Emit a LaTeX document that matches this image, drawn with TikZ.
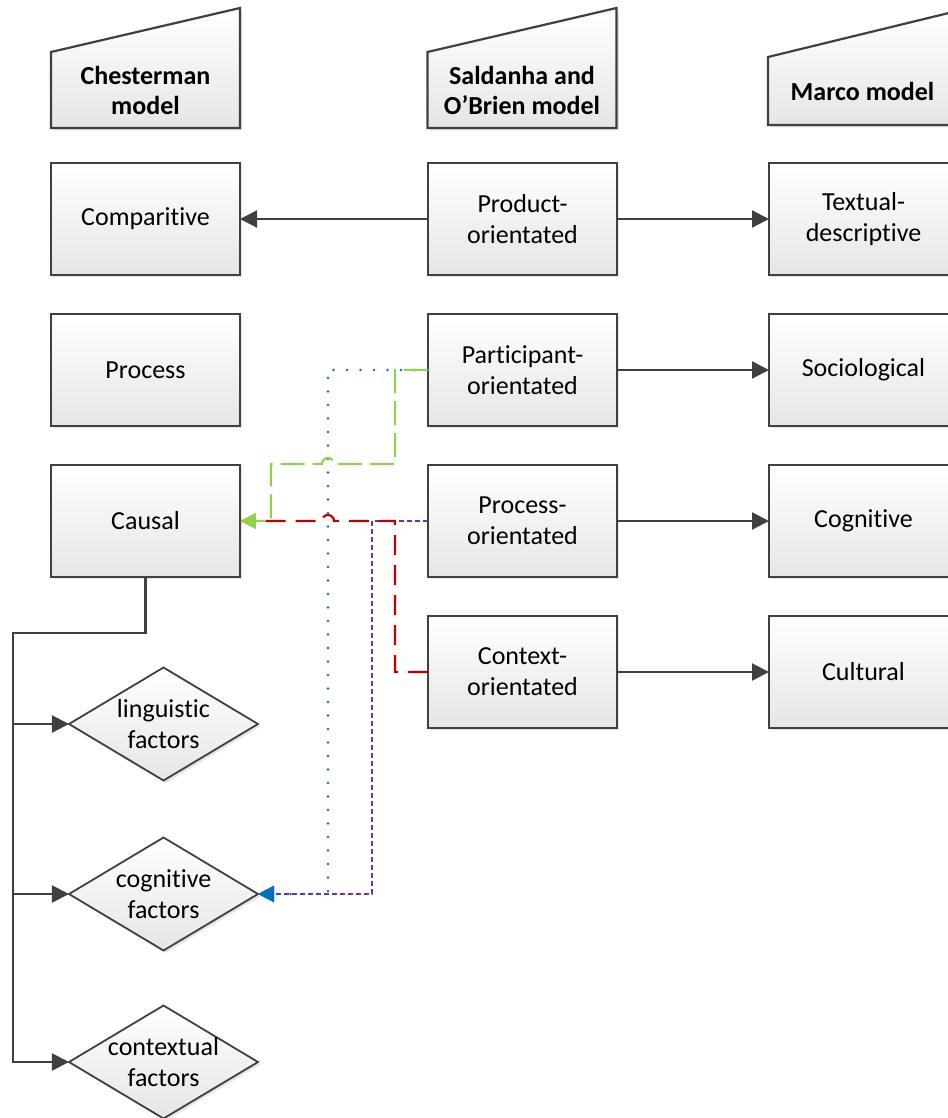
\documentclass[tikz,border=0pt]{standalone}
\usepackage{fontspec}
\setmainfont{Carlito}[Ligatures={TeX,NoCommon}]
\usetikzlibrary{arrows.meta,positioning,shapes.geometric,shadows,calc,backgrounds}

\definecolor{edgegray}{HTML}{404040}
\definecolor{lgreen}{HTML}{92D050}
\definecolor{dred}{HTML}{C00000}
\definecolor{mblue}{HTML}{0070C0}
\definecolor{mpurple}{HTML}{7030A0}

\begin{document}
\begin{tikzpicture}[x=0.5pt,y=-0.5pt,>={Triangle[length=8.5pt,width=8.5pt]},
  font=\fontsize{13}{15.5}\selectfont,node distance=19.5pt and 94pt,
  model node/.style={rectangle,draw=edgegray,line width=1.1pt,inner sep=0pt,outer sep=0pt,
    minimum width=94.5pt,minimum height=56pt,align=center,
    top color=white,bottom color=black!10,
    drop shadow={shadow xshift=1.2pt,shadow yshift=-1.2pt,opacity=0.2}},
  factor node/.style={diamond,draw=edgegray,line width=0.9pt,inner sep=0pt,outer sep=0pt,
    minimum width=94.5pt,minimum height=56.5pt,
    top color=white,bottom color=black!10,
    drop shadow={shadow xshift=1.2pt,shadow yshift=-1.2pt,opacity=0.2}},
  head node/.style={rectangle,inner sep=0pt,outer sep=0pt,minimum width=94.5pt,minimum height=38pt,
    align=center,font=\fontsize{13}{15}\selectfont\bfseries},
  head shape/.style={draw=edgegray,line width=1.1pt,top color=white,bottom color=black!10,
    drop shadow={shadow xshift=1.2pt,shadow yshift=-1.2pt,opacity=0.2}},
  link/.style={->,draw=edgegray,line width=1.1pt},
  green link/.style={draw=lgreen,line width=1.1pt,dash pattern=on 12pt off 4pt,
    -{Triangle[length=8pt,width=8pt]},color=lgreen},
  red link/.style={draw=dred,line width=1.1pt,dash pattern=on 10pt off 5pt},
  blue link/.style={draw=mblue,line width=1.4pt,line cap=round,dash pattern=on 0pt off 6.75pt,
    -{Triangle[length=8pt,width=8pt]},color=mblue},
  purple link/.style={draw=mpurple,line width=1.3pt,dash pattern=on 2.5pt off 1.5pt,
    -{Triangle[length=8pt,width=8pt]},color=mpurple}]
    \useasboundingbox (0,0) rectangle (947,1118);

    % headers
    \node[head node] (hC) at (145.5,90) {Chesterman\\model};
    \node[head node] (hS) at (522,90) {Saldanha and\\O'Brien model};
    \node[head node,minimum height=34pt] (hM) at (862.5,91) {Marco model};
    \begin{scope}[on background layer]
      \path[head shape] (hC.south west) -- (hC.south east)
        -- ($(hC.north east)+(0,-44)$) -- (hC.north west) -- cycle;
      \path[head shape] (hS.south west) -- (hS.south east)
        -- ($(hS.north east)+(0,-44)$) -- (hS.north west) -- cycle;
      \path[head shape] (hM.south west) -- (hM.south east)
        -- ($(hM.north east)+(0,-46)$) -- (hM.north west) -- cycle;
    \end{scope}

    % boxes
    \node[model node] (comp) at (145.5,219) {Comparitive};
    \node[model node,below=of comp] (proc) {Process};
    \node[model node,below=of proc] (causal) {Causal};
    \node[model node,right=of comp] (product) {Product-\\orientated};
    \node[model node,below=of product] (particip) {Participant-\\orientated};
    \node[model node,below=of particip] (procor) {Process-\\orientated};
    \node[model node,below=of procor] (context) {Context-\\orientated};
    \node[model node,right=76pt of product] (textual) {Textual-\\descriptive};
    \node[model node,below=of textual] (socio) {Sociological};
    \node[model node,below=of socio] (cogn) {Cognitive};
    \node[model node,below=of cogn] (cult) {Cultural};

    % factors
    \node[factor node,label={[align=center]center:linguistic\\factors}] (ling) at (163.5,724) {};
    \node[factor node,label={[align=center]center:cognitive\\factors}] (cogf) at (163.5,894) {};
    \node[factor node,label={[align=center]center:contextual\\factors}] (contf) at (163.5,1062) {};

    \coordinate (bus) at (13,633);
    \coordinate (gUp) at (395,464);
    \coordinate (gLow) at (271,464);
    \coordinate (bLine) at (328,894);
    \coordinate (pLine) at (372,894);

    \draw[link] (product) -- (comp);
    \draw[link] (product) -- (textual);
    \draw[link] (particip) -- (socio);
    \draw[link] (procor) -- (cogn);
    \draw[link] (context) -- (cult);

    \draw[link] (causal.south) |- (bus) |- (contf);
    \draw[link] (bus |- ling) -- (ling);
    \draw[link] (bus |- cogf) -- (cogf);

    \draw[purple link] (procor.west) -| (pLine) -- (cogf.east);
    \draw[blue link] (particip.west) -| (bLine) -- (cogf.east);
    \draw[red link] (context.west) -| (gUp |- causal.east)
      -- ($(bLine |- causal.east)+(6,0)$) arc[start angle=0,end angle=180,radius=3pt]
      -- (causal.east);
    \draw[green link] (particip.west) -| (gUp)
      -- ($(bLine |- gUp)+(6,0)$) arc[start angle=0,end angle=180,radius=3pt]
      -- (gLow) |- (causal.east);
\end{tikzpicture}
\end{document}
